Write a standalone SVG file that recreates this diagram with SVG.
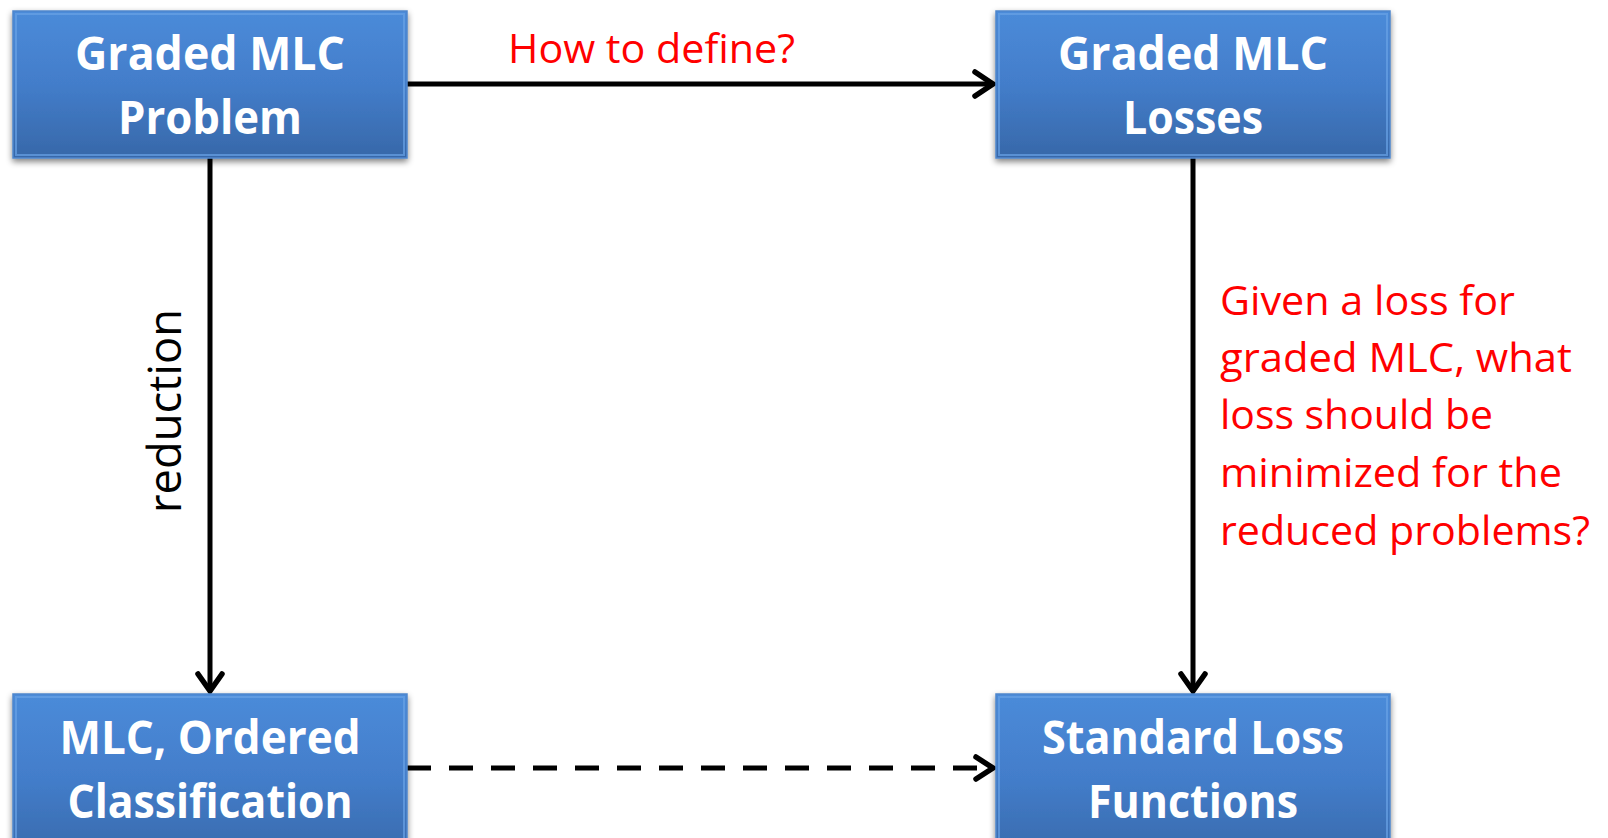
<svg xmlns="http://www.w3.org/2000/svg" width="1608" height="838" viewBox="0 0 1608 838">
<defs>
<linearGradient id="boxg" x1="0" y1="0" x2="0" y2="1">
<stop offset="0" stop-color="#4b8bd9"/>
<stop offset="0.5" stop-color="#437dca"/>
<stop offset="1" stop-color="#3768a9"/>
</linearGradient>
<filter id="sh" x="-5%" y="-10%" width="110%" height="125%">
<feGaussianBlur in="SourceAlpha" stdDeviation="3"/>
<feOffset dx="0" dy="3" result="b"/>
<feComponentTransfer><feFuncA type="linear" slope="0.5"/></feComponentTransfer>
<feMerge><feMergeNode/><feMergeNode in="SourceGraphic"/></feMerge>
</filter>
</defs>
<style>
.box{fill:url(#boxg);stroke:#4f86cc;stroke-width:1.5;filter:url(#sh)}
.bev{fill:none;stroke:#6aa2e6;stroke-width:2;opacity:0.7}
.bt{font-family:"Open Sans","Liberation Sans",sans-serif;font-weight:bold;font-size:47px;fill:#ffffff;text-anchor:middle}
.rt{font-family:"Open Sans","Liberation Sans",sans-serif;font-size:41px;fill:#ff0000}
.ln{stroke:#000;stroke-width:5;fill:none}
.ah{stroke:#000;stroke-width:5.5;fill:none;stroke-linecap:round;stroke-linejoin:miter}
</style>
<rect width="1608" height="838" fill="#ffffff"/>
<g id="connectors">
<line class="ln" x1="407" y1="84" x2="992" y2="84"/>
<polyline class="ah" points="975,72 993,84 975,96"/>
<line class="ln" x1="210" y1="158" x2="210" y2="690"/>
<polyline class="ah" points="198,674 210,691 222,674"/>
<line class="ln" x1="1193" y1="158" x2="1193" y2="690"/>
<polyline class="ah" points="1181,674 1193,691 1205,674"/>
<line class="ln" x1="407" y1="768" x2="980" y2="768" stroke-dasharray="24 18" stroke-width="5.5"/>
<polyline class="ah" points="976,757 993,768 976,779"/>
</g>
<g id="label-define">
<text class="rt" x="508" y="63" textLength="287" lengthAdjust="spacingAndGlyphs">How to define?</text>
</g>
<g id="label-reduction">
<text transform="translate(181,513) rotate(-90)" x="0" y="0" font-family="Open Sans, Liberation Sans, sans-serif" font-size="45" fill="#000" textLength="204" lengthAdjust="spacingAndGlyphs">reduction</text>
</g>
<g id="label-question">
<text class="rt" x="1220" y="315" textLength="295" lengthAdjust="spacingAndGlyphs">Given a loss for</text>
<text class="rt" x="1220" y="372" textLength="352" lengthAdjust="spacingAndGlyphs">graded MLC, what</text>
<text class="rt" x="1220" y="429" textLength="273" lengthAdjust="spacingAndGlyphs">loss should be</text>
<text class="rt" x="1220" y="487" textLength="342" lengthAdjust="spacingAndGlyphs">minimized for the</text>
<text class="rt" x="1220" y="545" textLength="370" lengthAdjust="spacingAndGlyphs">reduced problems?</text>
</g>
<g id="node-problem">
<rect class="box" x="13" y="11" width="394" height="147"/>
<rect class="bev" x="16" y="14" width="388" height="141"/>
<text class="bt" x="210" y="70" textLength="270" lengthAdjust="spacingAndGlyphs">Graded MLC</text>
<text class="bt" x="210" y="134" textLength="184" lengthAdjust="spacingAndGlyphs">Problem</text>
</g>
<g id="node-losses">
<rect class="box" x="996" y="11" width="394" height="147"/>
<rect class="bev" x="999" y="14" width="388" height="141"/>
<text class="bt" x="1193" y="70" textLength="270" lengthAdjust="spacingAndGlyphs">Graded MLC</text>
<text class="bt" x="1193" y="134" textLength="140" lengthAdjust="spacingAndGlyphs">Losses</text>
</g>
<g id="node-mlc-ordered">
<rect class="box" x="13" y="694" width="394" height="170"/>
<rect class="bev" x="16" y="697" width="388" height="164"/>
<text class="bt" x="210" y="754" textLength="301" lengthAdjust="spacingAndGlyphs">MLC, Ordered</text>
<text class="bt" x="210" y="818" textLength="285" lengthAdjust="spacingAndGlyphs">Classification</text>
</g>
<g id="node-standard">
<rect class="box" x="996" y="694" width="394" height="170"/>
<rect class="bev" x="999" y="697" width="388" height="164"/>
<text class="bt" x="1193" y="754" textLength="302" lengthAdjust="spacingAndGlyphs">Standard Loss</text>
<text class="bt" x="1193" y="818" textLength="210" lengthAdjust="spacingAndGlyphs">Functions</text>
</g>
</svg>
